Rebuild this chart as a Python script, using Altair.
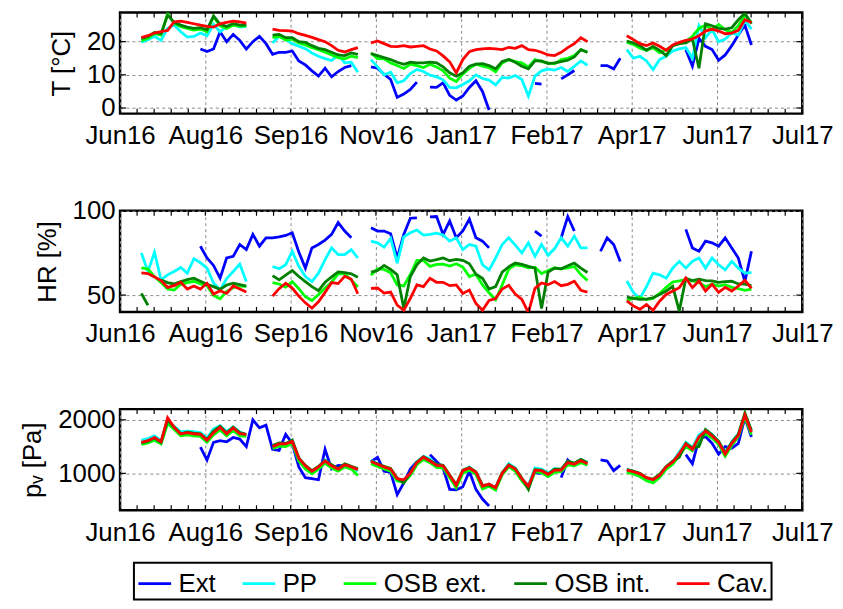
import altair as alt
import pandas as pd

# ---------------- data ----------------
SERIES = ["Ext", "PP", "OSB ext.", "OSB int.", "Cav."]
COLORS = ["#0000ff", "#00ffff", "#00ff00", "#008000", "#ff0000"]

# sampling dates (every 4 days, 94 samples)
DATES = pd.date_range("2016-06-23", periods=94, freq="4D")

X_TICKS = ["2016-06-10", "2016-08-01", "2016-09-22", "2016-11-13", "2017-01-04",
           "2017-02-25", "2017-04-18", "2017-06-09", "2017-07-31"]
T_TICKS = [0, 10, 20]
HR_TICKS = [50, 100]
PV_TICKS = [1000, 2000]
T_DOMAIN = [-1.7, 28.8]
HR_DOMAIN = [40, 100]
PV_DOMAIN = [310, 2200]

N = None

# ---- Temperature [°C]
T_EXT = [N]*9 + [17.8, 17.0, 17.8, 23.0, 20.0, 22.2, 20.4, 17.8, 20.0, 21.6, 19.4, 16.2, 16.8, 16.8, 17.2, 14.2,
                 13.0, 11.2, 9.6, 12.0, 9.4, 11.0, 12.2, 12.8] + [N]*2 + \
        [12.4, 12.0, 10.2, 8.6, 3.2, 4.2, 5.6, 7.8, N, 6.3, 6.2, 7.6, 3.8, 2.4, 3.6, 6.2, 8.2, 5.0, -0.6] + [N]*6 + \
        [7.4, 7.2] + [N]*2 + [8.8, 10.0, 11.3] + [N]*3 + [12.8, 12.8, 11.8, 15.0] + [N]*9 + \
        [17.6, 12.6, 21.0, 18.6, 17.6, 14.4, 16.0, 18.8, 22.0, 25.0, 19.0]
T_PP = [19.8, 20.6, 21.6, 20.4, 24.0, 25.0, 23.0, 21.4, 21.6, 22.6, 21.8, 25.2, 23.0, 24.6, 25.2, 24.4, 24.6] + [N]*3 + \
       [19.6, 21.6, 20.6, 19.4, 18.6, 17.9, 16.6, 15.6, 14.9, 14.3, 16.0, 13.6, 13.8, 10.8] + [N] + \
       [14.6, 12.4, 10.0, 10.8, 7.6, 8.2, 10.4, 11.6, 11.0, 9.9, 9.4, 8.5, 6.2, 6.1, 7.1, 8.2, 10.0, 8.9, 8.4, 7.0,
        9.2, 9.0, 9.8, 8.6, 3.6, 9.6, 11.2, 11.7, 11.4, 12.2, 11.0, 12.6, 14.2, 12.9] + [N]*5 + \
       [17.6, 15.0, 15.6, 14.2, 11.6, 14.6, 15.6, 17.2, 17.8, 18.2, 15.0, 24.8, 21.2, 23.6, 20.0, 20.8, 22.6, 22.0,
        26.4, 23.8]
T_OSBE = [20.3, 21.0, 22.4, 22.0, 28.5, 25.5, 24.5, 24.0, 23.5, 23.8, 23.0, 27.5, 24.8, 24.0, 25.0, 24.6, 24.8] + [N]*3 + \
         [21.2, 21.6, 20.5, 20.8, 19.6, 19.0, 18.2, 17.6, 16.8, 16.0, 15.2, 14.8, 15.6, 15.2] + [N] + \
         [16.6, 14.9, 14.8, 13.6, 12.8, 11.9, 13.2, 12.8, 12.2, 13.2, 12.4, 11.2, 9.0, 8.0, 10.2, 12.0, 13.2, 12.6,
          12.2, 10.9, 13.6, 14.6, 14.0, 13.6, 12.3, 14.6, 14.0, 13.6, 13.3, 14.6, 15.0, 15.8, 17.6, 16.8] + [N]*5 + \
         [19.8, 19.2, 18.0, 17.4, 18.2, 16.6, 17.6, 18.8, 19.4, 20.0, 21.6, 24.0, 25.0, 23.6, 25.2, 23.6, 22.8, 24.8,
          28.0, 25.8]
T_OSBI = [21.0, 21.6, 22.8, 22.4, 28.0, 25.8, 25.0, 24.4, 24.0, 24.2, 23.6, 27.8, 25.2, 24.6, 25.4, 25.0, 25.0] + [N]*3 + \
         [22.0, 22.2, 21.2, 21.2, 20.0, 19.8, 18.8, 18.0, 17.6, 16.8, 16.0, 15.8, 16.6, 16.2] + [N] + \
         [16.4, 15.8, 15.2, 14.6, 13.8, 13.2, 13.8, 13.6, 13.6, 13.8, 13.6, 12.4, 10.6, 9.6, 10.6, 12.6, 13.2, 13.4,
          12.8, 11.8, 14.0, 14.6, 13.8, 12.6, 11.8, 14.2, 14.2, 13.4, 13.6, 14.0, 14.4, 15.4, 17.6, 16.8] + [N]*5 + \
         [20.2, 19.6, 18.8, 17.4, 18.6, 17.4, 15.8, 18.8, 19.4, 19.6, 20.8, 12.0, 25.4, 24.8, 24.0, 23.8, 24.2, 26.6,
          28.6, 25.4]
T_CAV = [21.2, 21.8, 22.6, 23.0, 23.4, 26.0, 26.2, 25.8, 25.4, 25.0, 24.6, 24.4, 25.4, 25.8, 26.2, 26.0, 25.6] + [N]*3 + \
        [23.8, 23.4, 23.3, 23.2, 22.4, 21.9, 21.3, 20.6, 20.0, 18.8, 17.4, 16.9, 17.6, 18.2] + [N] + \
        [19.6, 20.2, 19.4, 18.6, 18.5, 18.8, 18.4, 18.6, 18.8, 17.8, 17.2, 15.7, 13.9, 10.6, 14.6, 17.0, 17.6, 17.8,
         18.0, 17.8, 17.6, 18.3, 18.0, 18.8, 17.6, 17.4, 16.8, 16.0, 15.8, 16.8, 18.2, 19.4, 21.2, 20.0] + [N]*5 + \
        [21.8, 20.6, 19.4, 18.8, 19.6, 18.6, 17.4, 19.0, 19.8, 20.4, 20.8, 21.8, 23.2, 23.8, 23.2, 22.4, 22.6, 23.4,
         26.6, 25.8]

# ---- Relative humidity [%]
HR_EXT = [N]*9 + [79.0, 72.0, 67.6, 60.0, 72.0, 73.0, 80.0, 77.0, 86.0, 79.0, 84.0, 84.0, 84.6, 85.4, 87.0, 75.6,
                  66.0, 78.0, 80.0, 82.6, 86.0, 93.0, 88.0, 84.0] + [N]*2 + \
         [90.0, 88.0, 88.0, 86.4, 72.0, 86.0, 95.6, 95.8, N, 96.4, 96.6, 86.0, 94.0, 84.0, 88.0, 95.0, 84.0, 82.0,
          78.0] + [N]*6 + [88.0, 85.0] + [N]*2 + [84.0, 96.6, 88.0] + [N]*3 + [76.0, 84.0, 80.0, 70.0] + [N]*9 + \
         [89.0, 78.0, 76.0, 82.0, 81.0, 79.0, 84.0, 78.0, 72.0, 58.0, 76.0]
HR_PP = [75.0, 64.0, 75.4, 59.0, 62.0, 64.0, 66.4, 63.0, 71.6, 69.2, 66.0, 57.2, 53.0, 59.8, 64.0, 68.4, 58.0] + [N]*3 + \
        [67.0, 65.6, 68.0, 76.0, 67.0, 61.0, 58.0, 63.0, 71.0, 78.0, 74.0, 74.0, 77.0, 72.0] + [N] + \
        [82.0, 81.0, 78.4, 83.6, 69.0, 84.6, 87.0, 88.6, 85.6, 86.0, 86.8, 85.6, 82.0, 84.0, 77.0, 80.0, 79.0, 68.0,
         65.0, 72.0, 80.0, 84.0, 79.6, 75.0, 81.0, 73.0, 80.0, 73.6, 77.6, 84.0, 79.0, 85.0, 78.0, 78.0] + [N]*5 + \
        [58.4, 51.6, 48.0, 55.0, 63.0, 62.0, 60.0, 66.0, 70.0, 66.0, 70.0, 72.0, 66.0, 72.0, 68.0, 65.0, 70.0, 66.0,
         63.0, 63.4]
HR_OSBE = [66.2, 65.4, 61.0, 57.4, 53.6, 53.0, 56.4, 57.4, 58.2, 56.6, 55.6, 49.8, 47.8, 52.2, 54.4, 55.4, 55.2] + [N]*3 + \
          [57.4, 56.6, 54.8, 58.0, 53.8, 49.0, 46.8, 50.4, 54.2, 57.8, 62.6, 62.6, 59.0, 54.8] + [N] + \
          [61.8, 65.6, 65.2, 63.2, 56.0, 55.4, 62.2, 70.6, 70.6, 67.0, 68.2, 68.4, 67.2, 68.6, 66.6, 61.0, 62.4, 56.0,
           51.4, 47.2, 56.0, 65.4, 68.0, 67.4, 66.2, 66.6, 62.8, 64.6, 66.2, 65.6, 66.2, 67.0, 62.2, 58.6] + [N]*5 + \
          [46.6, 48.2, 48.6, 47.4, 48.0, 51.0, 54.6, 57.8, 58.4, 59.2, 58.4, 57.6, 55.0, 56.6, 55.4, 56.2, 54.6, 53.8,
           52.8, 53.6]
HR_OSBI = [51.0, 44.0, N, 59.0, 57.4, 56.6, 58.0, 59.2, 60.0, 58.2, 56.4, 55.0, 53.4, 56.0, 57.0, 56.2, 55.4] + [N]*3 + \
          [61.6, 59.0, 61.8, 64.6, 61.0, 58.0, 55.0, 52.6, 57.6, 60.8, 63.8, 63.4, 62.6, 60.6] + [N] + \
          [63.6, 64.6, 67.6, 65.2, 62.0, 42.0, 61.0, 68.0, 72.0, 70.2, 71.0, 72.0, 70.4, 71.2, 70.6, 68.6, 62.4, 60.0,
           53.6, 55.0, 63.6, 66.8, 69.0, 68.2, 67.0, 66.0, 42.0, 63.6, 66.0, 65.6, 67.4, 69.0, 66.0, 63.4] + [N]*5 + \
          [48.8, 48.0, 47.4, 47.6, 48.4, 50.4, 52.4, 55.2, 40.5, 60.0, 58.6, 59.4, 58.6, 58.4, 57.6, 58.0, 58.2, 56.6,
           56.5, 55.6]
HR_CAV = [63.2, 62.8, 60.8, 58.6, 54.6, 55.6, 57.6, 53.6, 55.4, 53.6, 57.0, 50.6, 52.6, 51.0, 55.4, 53.6, 51.8] + [N]*3 + \
         [49.4, 53.8, 57.0, 54.2, 49.4, 45.4, 42.2, 46.0, 51.6, 57.4, 56.8, 61.2, 59.4, 50.8] + [N] + \
         [54.0, 54.2, 51.2, 51.8, 44.0, 41.0, 48.0, 56.0, 55.0, 60.0, 57.6, 57.6, 55.6, 56.0, 51.0, 53.0, 45.0, 41.0,
          46.8, 48.0, 53.6, 55.8, 50.6, 47.4, 39.6, 54.0, 57.2, 56.2, 58.0, 55.6, 56.4, 58.2, 52.8, 51.8] + [N]*5 + \
         [46.6, 43.6, 41.6, 44.4, 41.0, 46.4, 50.4, 52.4, 54.4, 60.2, 54.4, 58.4, 52.4, 56.4, 51.6, 54.6, 52.4, 55.4,
          58.8, 54.0]

# ---- Vapour pressure [Pa]
PV_EXT = [N]*9 + [1490, 1250, 1580, 1610, 1590, 1670, 1640, 1500, 2000, 1850, 1900, 1450, 1430, 1730, 1560, 1120,
                  920, 900, 880, 1450, 1080, 1150, 1140, 1090] + [N]*2 + \
         [1220, 1300, 1040, 1020, 600, 820, 1080, 1220, N, 1350, 1220, 1100, 700, 690, 750, 1040, 700, 520, 390] + \
         [N]*6 + [1010, 1000] + [N]*2 + [920, 1250, 1130] + [N]*3 + [1250, 1230, 1050, 1150] + [N]*9 + \
         [1350, 1180, 1650, 1690, 1560, 1360, 1500, 1470, 1560, 2040, 1680]
PV_PP = [1620, 1650, 1700, 1610, 1990, 1880, 1780, 1790, 1780, 1760, 1660, 1830, 1890, 1780, 1870, 1770, 1720] + [N]*3 + \
        [1510, 1560, 1540, 1620, 1250, 1100, 1000, 1090, 1250, 1150, 1060, 1170, 1130, 1040] + [N] + \
        [1240, 1180, 1100, 1060, 860, 860, 990, 1220, 1320, 1270, 1160, 1150, 950, 760, 1040, 1120, 1010, 740, 800,
         720, 1010, 1180, 1100, 890, 780, 1100, 1080, 1000, 1090, 1070, 1210, 1180, 1260, 1200] + [N]*5 + \
        [1080, 1020, 950, 890, 850, 940, 1100, 1220, 1400, 1580, 1480, 1720, 1800, 1730, 1600, 1380, 1590, 1740,
         2100, 1800]
PV_OSBE = [1540, 1570, 1620, 1550, 1930, 1820, 1700, 1720, 1700, 1690, 1580, 1720, 1810, 1700, 1800, 1700, 1690] + [N]*3 + \
          [1460, 1510, 1500, 1560, 1230, 1080, 990, 1080, 1190, 1100, 1040, 1120, 1080, 960] + [N] + \
          [1180, 1130, 1080, 1040, 860, 830, 960, 1160, 1260, 1200, 1110, 1100, 920, 730, 1000, 1060, 980, 710, 760,
           690, 970, 1120, 1040, 860, 720, 1030, 1010, 940, 1020, 1030, 1160, 1140, 1200, 1150] + [N]*5 + \
          [1020, 990, 940, 860, 820, 920, 1080, 1170, 1330, 1500, 1420, 1630, 1740, 1660, 1540, 1320, 1520, 1680,
           2050, 1720]
PV_OSBI = [1570, 1600, 1660, 1580, 2000, 1860, 1740, 1770, 1750, 1740, 1630, 1790, 1880, 1760, 1860, 1760, 1730] + [N]*3 + \
          [1520, 1570, 1560, 1620, 1290, 1150, 1050, 1130, 1240, 1160, 1090, 1180, 1130, 1090] + [N] + \
          [1230, 1180, 1130, 1090, 910, 820, 1010, 1210, 1310, 1240, 1170, 1150, 970, 790, 1060, 1110, 1030, 780, 780,
           740, 1010, 1160, 1090, 910, 700, 1070, 1060, 990, 1080, 1080, 1230, 1190, 1260, 1200] + [N]*5 + \
          [1070, 1040, 1000, 920, 890, 980, 1130, 1230, 1300, 1560, 1470, 1500, 1820, 1720, 1600, 1380, 1580, 1730,
           2130, 1800]
PV_CAV = [1580, 1610, 1670, 1590, 2040, 1860, 1740, 1760, 1740, 1730, 1620, 1760, 1860, 1740, 1850, 1740, 1730] + [N]*3 + \
         [1500, 1550, 1550, 1600, 1280, 1140, 1040, 1120, 1230, 1140, 1080, 1160, 1120, 1070] + [N] + \
         [1220, 1170, 1120, 1080, 900, 880, 1000, 1200, 1300, 1230, 1150, 1140, 960, 780, 1050, 1100, 1020, 760, 800,
          730, 1000, 1150, 1080, 900, 760, 1060, 1050, 980, 1060, 1060, 1200, 1170, 1240, 1180] + [N]*5 + \
         [1060, 1030, 990, 920, 880, 960, 1120, 1210, 1370, 1550, 1450, 1680, 1790, 1700, 1580, 1360, 1560, 1710,
          2090, 1770]

T_DATA = dict(zip(SERIES, [T_EXT, T_PP, T_OSBE, T_OSBI, T_CAV]))
HR_DATA = dict(zip(SERIES, [HR_EXT, HR_PP, HR_OSBE, HR_OSBI, HR_CAV]))
PV_DATA = dict(zip(SERIES, [PV_EXT, PV_PP, PV_OSBE, PV_OSBI, PV_CAV]))
for dd in (T_DATA, HR_DATA, PV_DATA):
    for k, v in dd.items():
        assert len(v) == len(DATES), (k, len(v))

# ---------------- chart ----------------
FONT = "Liberation Sans"
W, H = 688, 102
FS = 26


def dt(s):
    t = pd.Timestamp(s)
    return alt.DateTime(year=t.year, month=t.month, date=t.day)


major = [pd.Timestamp(s) for s in X_TICKS]
tick_dates = []
for a, b in zip(major[:-1], major[1:]):
    for i in range(5):
        tick_dates.append(a + (b - a) * i / 5)
tick_dates.append(major[-1])
TICK_DF = pd.DataFrame({"date": [t.strftime("%Y-%m-%dT%H:%M:%S") for t in tick_dates]})


def panel(data, ytitle, ydomain, yticks, show_legend):
    rows = []
    for name in SERIES:
        for d, v in zip(DATES, data[name]):
            rows.append({"date": d.strftime("%Y-%m-%dT%H:%M:%S"), "series": name, "value": v})
    df = pd.DataFrame(rows)

    x_enc = alt.X("date:T",
                  scale=alt.Scale(domain=[dt(X_TICKS[0]), dt(X_TICKS[-1])]),
                  axis=alt.Axis(values=[dt(s) for s in X_TICKS], format="%b%y", title=None,
                                grid=True, ticks=False, domain=False, labelFlush=False,
                                labelOverlap=False, labelPadding=9, labelFontSize=FS,
                                gridColor="#8a8a8a", gridDash=[3, 3], gridWidth=1))
    y_enc = alt.Y("value:Q",
                  scale=alt.Scale(domain=ydomain, nice=False, zero=False),
                  axis=alt.Axis(values=yticks, format="d", title=ytitle, grid=True, ticks=False,
                                domain=False, labelPadding=5, labelFontSize=FS, titleFontSize=FS,
                                titleFontWeight="normal", titlePadding=12,
                                gridColor="#8a8a8a", gridDash=[3, 3], gridWidth=1))
    if show_legend:
        legend = alt.Legend(orient="none", legendX=14, legendY=155, direction="horizontal",
                            title=None, symbolType="stroke", symbolSize=1089,
                            symbolStrokeWidth=2.8, labelFontSize=FS, labelFont=FONT,
                            labelColor="black", strokeColor="black", fillColor="white",
                            padding=3, columnPadding=20, labelOffset=6, labelLimit=0)
    else:
        legend = None
    color = alt.Color("series:N", scale=alt.Scale(domain=SERIES, range=COLORS), legend=legend)

    layers = []
    for name in SERIES:
        layers.append(
            alt.Chart(df).transform_filter(alt.datum.series == name)
            .mark_line(strokeWidth=2.8, clip=True, invalid="break-paths-filter-domains")
            .encode(x=x_enc, y=y_enc, color=color)
        )
    top = alt.Chart(TICK_DF).mark_rule(color="black", strokeWidth=1.2).encode(
        x=x_enc, y=alt.value(0), y2=alt.value(5))
    bot = alt.Chart(TICK_DF).mark_rule(color="black", strokeWidth=1.2).encode(
        x=x_enc, y=alt.value(H), y2=alt.value(H - 5))
    ydf = pd.DataFrame({"value": yticks})
    left = alt.Chart(ydf).mark_rule(color="black", strokeWidth=1.2).encode(
        y=y_enc, x=alt.value(0), x2=alt.value(6))
    right = alt.Chart(ydf).mark_rule(color="black", strokeWidth=1.2).encode(
        y=y_enc, x=alt.value(W - 6), x2=alt.value(W))
    return alt.layer(*layers, top, bot, left, right).properties(width=W, height=H)


p1 = panel(T_DATA, "T [°C]", T_DOMAIN, T_TICKS, False)
p2 = panel(HR_DATA, "HR [%]", HR_DOMAIN, HR_TICKS, False)
p3 = panel(PV_DATA, "pᵥ [Pa]", PV_DOMAIN, PV_TICKS, True)

chart = (
    alt.vconcat(p1, p2, p3, spacing=98, bounds="flush")
    .resolve_scale(color="independent")
    .properties(padding={"left": 10, "top": 0, "right": 0, "bottom": 0})
    .configure(font=FONT)
    .configure_view(stroke="black", strokeWidth=2.5)
    .configure_axis(labelFont=FONT, titleFont=FONT, labelColor="black", titleColor="black")
    .configure_legend(strokeWidth=2)
)

chart.save("out.html", embed_options={"renderer": "svg", "actions": False})
